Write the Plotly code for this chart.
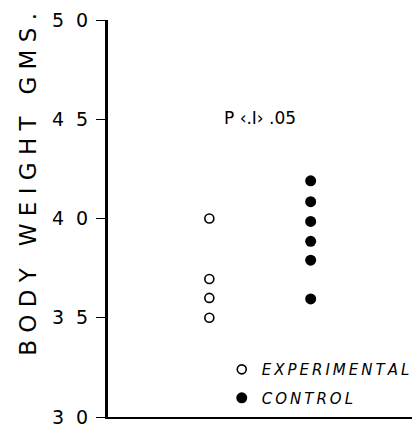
import plotly.graph_objects as go

NB = "\u00a0"
TH = "\u2009"

# Data
exp_x = [1, 1, 1, 1]
exp_y = [40.0, 36.95, 36.0, 35.0]
ctl_x = [2, 2, 2, 2, 2, 2]
ctl_y = [41.9, 40.85, 39.85, 38.85, 37.9, 35.95]
tick_vals = [30, 35, 40, 45, 50]
tick_labels = ["30", "35", "40", "45", "50"]
series_names = ["EXPERIMENTAL", "CONTROL"]
y_title_words = ["BODY", "WEIGHT", "GMS."]
p_text = "P ‹.I› .05"


def spaced(word, sep):
    return sep.join(list(word))


tick_text = [spaced(t, NB + NB) for t in tick_labels]
y_title = (NB + NB + NB).join(spaced(w, NB) for w in y_title_words)
names = [spaced(n, TH) for n in series_names]

font = "DejaVu Sans, Arial, sans-serif"

fig = go.Figure()
fig.add_trace(go.Scatter(
    x=exp_x, y=exp_y, mode="markers", name=names[0], legendgroup="a",
    marker=dict(symbol="circle-open", size=9, color="black", line=dict(width=1.6, color="black")),
))
fig.add_trace(go.Scatter(
    x=ctl_x, y=ctl_y, mode="markers", name=names[1], legendgroup="b",
    marker=dict(symbol="circle", size=11, color="black"),
))

fig.add_annotation(x=1.5, y=45.05, xref="x", yref="y", text=p_text, showarrow=False,
                   font=dict(family=font, size=17, color="black"))
fig.add_annotation(x=0, y=0.585, xref="paper", yref="paper", xshift=-95, text=y_title,
                   textangle=-90, showarrow=False, font=dict(family=font, size=23, color="black"))

fig.update_layout(
    width=420, height=428,
    margin=dict(l=108, r=8, t=20, b=11, autoexpand=False),
    paper_bgcolor="white", plot_bgcolor="white",
    showlegend=True,
    legend=dict(x=0.528, y=0.175, xref="container", yref="container",
                xanchor="left", yanchor="top",
                font=dict(family="DejaVu Sans, sans-serif", size=15, color="black", style="italic"),
                traceorder="grouped", tracegroupgap=6, bgcolor="rgba(0,0,0,0)", itemsizing="trace"),
    xaxis=dict(range=[0, 3], showline=True, linecolor="black", linewidth=2, showgrid=False,
               zeroline=False, showticklabels=False, ticks=""),
    yaxis=dict(range=[30, 50], showline=True, linecolor="black", linewidth=3, showgrid=False,
               zeroline=False, tickvals=tick_vals, ticktext=tick_text, ticks="outside",
               ticklen=9, tickwidth=1, tickcolor="black", ticklabelstandoff=4,
               tickfont=dict(family=font, size=19, color="black")),
)

fig.write_html("out.html")
